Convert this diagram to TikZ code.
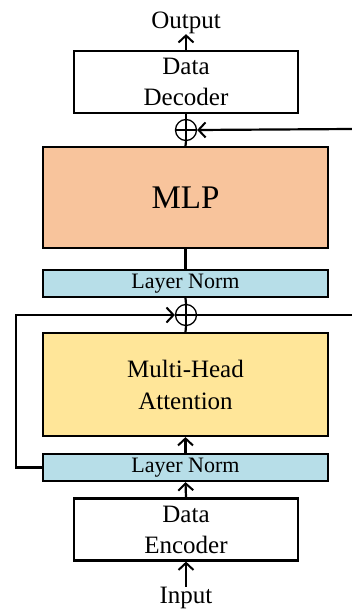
\documentclass[tikz,border=0pt]{standalone}
\usepackage{fontspec}
\setmainfont{Liberation Serif}
\usetikzlibrary{calc}
\usetikzlibrary{arrows.meta}

\definecolor{mlpcolor}{HTML}{F8C49C}
\definecolor{normcolor}{HTML}{B7DEE8}
\definecolor{attncolor}{HTML}{FFE699}

\tikzset{
	block/.style={draw, line width=2.2pt, inner sep=0pt, align=center},
	coder/.style={block, minimum width=224pt, minimum height=62pt, font=\fontsize{25}{31}\selectfont},
	wide/.style={block, minimum width=285pt},
	sumnode/.style={circle, draw, line width=1.3pt, minimum size=21pt, inner sep=0pt,
		path picture={\draw[line width=1.3pt] (path picture bounding box.north) -- (path picture bounding box.south)
			(path picture bounding box.west) -- (path picture bounding box.east);}},
	conn/.style={line width=2.2pt},
	arr/.style={conn, -{Straight Barb[length=7pt,width=15pt,line width=2pt]}},
	label/.style={font=\fontsize{25}{31}\selectfont, inner sep=0pt}
}

\begin{document}
\begin{tikzpicture}[x=1pt, y=-1pt]
				\useasboundingbox (0,0) rectangle (352,610);

				\node[label](output) at (186, 23) {Output};
				\node[coder](decoder) at (186, 82) {Data\\Decoder};
				\node[sumnode](sumtop) at (186, 130) {};
				\node[wide, fill=mlpcolor, minimum height=101pt, font=\fontsize{33}{36}\selectfont](mlp) at (185.5, 197.5) {MLP};
				\node[wide, fill=normcolor, minimum height=27pt, font=\fontsize{22}{24}\selectfont](normtop) at (185.5, 283.5) {Layer Norm};
				\node[sumnode](sumbot) at (186, 315) {};
				\node[wide, fill=attncolor, minimum height=103pt, font=\fontsize{25}{32}\selectfont](attn) at (185.5, 384.5) {Multi-Head\\Attention};
				\node[wide, fill=normcolor, minimum height=27pt, font=\fontsize{22}{24}\selectfont](normbot) at (185.5, 467.5) {Layer Norm};
				\node[coder](encoder) at (186, 529.5) {Data\\Encoder};
				\node[label](input) at (186, 598) {Input};

				\coordinate(rtop) at (352, 129);
				\coordinate(rbot) at (352, 315);
				\coordinate(lbot) at (16, 467.5);
				\coordinate(ltop) at (16, 315);

				% main path
				\draw[arr] (input.north) -- (encoder.south);
				\draw[arr] (encoder.north) -- (normbot.south);
				\draw[arr] (normbot.north) -- (attn.south);
				\draw[conn] (attn.north) -- (sumbot.south);
				\draw[conn] (sumbot.north) -- (normtop.south);
				\draw[conn] (normtop.north) -- (mlp.south);
				\draw[conn] (mlp.north) -- (sumtop.south);
				\draw[conn] (sumtop.north) -- (decoder.south);
				\draw[arr] (decoder.north) -- (output.south);

				% residual paths
				\draw[arr] (normbot.west) -- (lbot) -- (ltop) -- (sumbot.west);
				\draw[conn] (sumbot.east) -- (rbot);
				\draw[arr] (rtop) -- (sumtop.east);

			\end{tikzpicture}
\end{document}
